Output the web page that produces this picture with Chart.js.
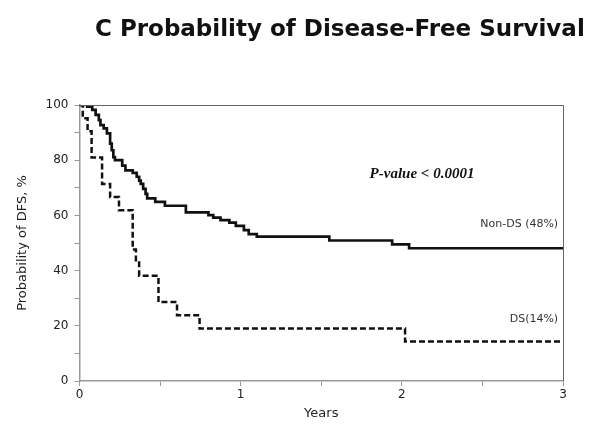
<!DOCTYPE html>
<html>
<head>
<meta charset="utf-8">
<script src="https://cdn.jsdelivr.net/npm/chart.js@4"></script>
<style>
  html, body { margin: 0; padding: 0; background: #fff; }
  #wrap { width: 601px; height: 430px; }
</style>
</head>
<body>
<div id="wrap"><canvas id="km" width="601" height="430"></canvas></div>
<script>
// Kaplan-Meier steps (years, % DFS)
let nonDsYears = [0, 0.048, 0.079, 0.1, 0.12, 0.13, 0.15, 0.17, 0.19, 0.2, 0.21, 0.22, 0.265, 0.285, 0.33, 0.355, 0.37, 0.38, 0.395, 0.41, 0.42, 0.47, 0.53, 0.66, 0.8, 0.83, 0.875, 0.93, 0.97, 1.02, 1.05, 1.1, 1.55, 1.94, 2.045, 3];
let nonDsValues = [100, 99.4, 98.2, 96.4, 94.5, 92.7, 91.5, 89.7, 86, 83.6, 81.1, 80, 78, 76.3, 75.4, 74, 72.6, 71.4, 69.6, 67.8, 66.2, 64.9, 63.5, 61.1, 60.1, 59.2, 58.3, 57.4, 56.2, 54.7, 53.2, 52.3, 50.9, 49.5, 48.1, 48.1];

let dsYears = [0, 0.02, 0.05, 0.075, 0.14, 0.19, 0.245, 0.33, 0.35, 0.37, 0.49, 0.605, 0.745, 2.02, 3];
let dsValues = [100, 95.2, 90.5, 81, 71.4, 66.7, 61.9, 47.6, 42.9, 38.1, 28.6, 23.8, 19.0, 14.3, 14.3];

let xTicks = [0, 1, 2, 3];
let yTicks = [0, 20, 40, 60, 80, 100];

let titleText = 'C Probability of Disease-Free Survival';
let pText = 'P-value < 0.0001';
let nonDsLabel = 'Non-DS (48%)';
let dsLabel = 'DS(14%)';

function toPoints(xs, ys){
    let pts = [];
    for(let i = 0; i < xs.length; i++){
        pts.push({x: xs[i], y: ys[i]});
    }
    return pts;
}

// frame on top/right, title and text notes
let extras = {
    id: 'extras',
    afterDraw(chart){
        let ctx = chart.ctx;
        let a = chart.chartArea;
        let sx = chart.scales.x;
        let sy = chart.scales.y;
        ctx.save();

        ctx.strokeStyle = '#666';
        ctx.lineWidth = 1;
        ctx.beginPath();
        ctx.moveTo(a.left, a.top + 0.5);
        ctx.lineTo(a.right + 0.5, a.top + 0.5);
        ctx.lineTo(a.right + 0.5, a.bottom);
        ctx.stroke();

        ctx.fillStyle = '#111';
        ctx.font = 'bold 20px "DejaVu Sans"';
        let w = ctx.measureText(titleText).width;
        let size = 20 * 490 / w;
        ctx.font = 'bold ' + size.toFixed(1) + 'px "DejaVu Sans"';
        ctx.textAlign = 'left';
        ctx.textBaseline = 'middle';
        ctx.fillText(titleText, 95, 30);

        ctx.font = 'italic bold 15px "Liberation Serif"';
        ctx.fillStyle = '#111';
        ctx.fillText(pText, sx.getPixelForValue(1.8), sy.getPixelForValue(75));

        ctx.font = '11px "DejaVu Sans"';
        ctx.fillStyle = '#333';
        ctx.textAlign = 'right';
        ctx.fillText(nonDsLabel, sx.getPixelForValue(2.97), sy.getPixelForValue(57));
        ctx.fillText(dsLabel, sx.getPixelForValue(2.97), sy.getPixelForValue(22.3));
        ctx.restore();
    }
};

let tickFont = {family: 'DejaVu Sans', size: 12};

new Chart(document.getElementById('km'), {
    type: 'line',
    data: {
        datasets: [{
            label: 'Non-DS',
            data: toPoints(nonDsYears, nonDsValues),
            borderColor: '#111',
            borderWidth: 2.7,
            stepped: 'before',
            pointRadius: 0,
            fill: false
        }, {
            label: 'DS',
            data: toPoints(dsYears, dsValues),
            borderColor: '#111',
            borderWidth: 2.5,
            borderDash: [6, 3],
            stepped: 'before',
            pointRadius: 0,
            fill: false
        }]
    },
    options: {
        responsive: false,
        animation: false,
        layout: {padding: {top: 105, right: 38, bottom: 9, left: 15}},
        plugins: {
            legend: {display: false},
            tooltip: {enabled: false}
        },
        scales: {
            x: {
                type: 'linear',
                min: 0,
                max: 3,
                ticks: {
                    stepSize: 0.5,
                    autoSkip: false,
                    maxRotation: 0,
                    color: '#222',
                    font: tickFont,
                    padding: 2,
                    callback: v => xTicks.includes(v) ? String(v) : ''
                },
                grid: {drawOnChartArea: false, drawTicks: true, tickLength: 5, color: '#999'},
                border: {color: '#999', width: 1.5},
                title: {display: true, text: 'Years', color: '#222', font: {family: 'DejaVu Sans', size: 13}, padding: {top: 1, bottom: 0}}
            },
            y: {
                min: 0,
                max: 100,
                ticks: {
                    stepSize: 10,
                    autoSkip: false,
                    color: '#222',
                    font: tickFont,
                    padding: 6,
                    callback: v => yTicks.includes(v) ? String(v) : ''
                },
                grid: {drawOnChartArea: false, drawTicks: true, tickLength: 5, color: '#999'},
                border: {color: '#999', width: 1.5},
                title: {display: true, text: 'Probability of DFS, %', color: '#222', font: {family: 'DejaVu Sans', size: 13}, padding: {top: 0, bottom: 9}}
            }
        }
    },
    plugins: [extras]
});
</script>
</body>
</html>
